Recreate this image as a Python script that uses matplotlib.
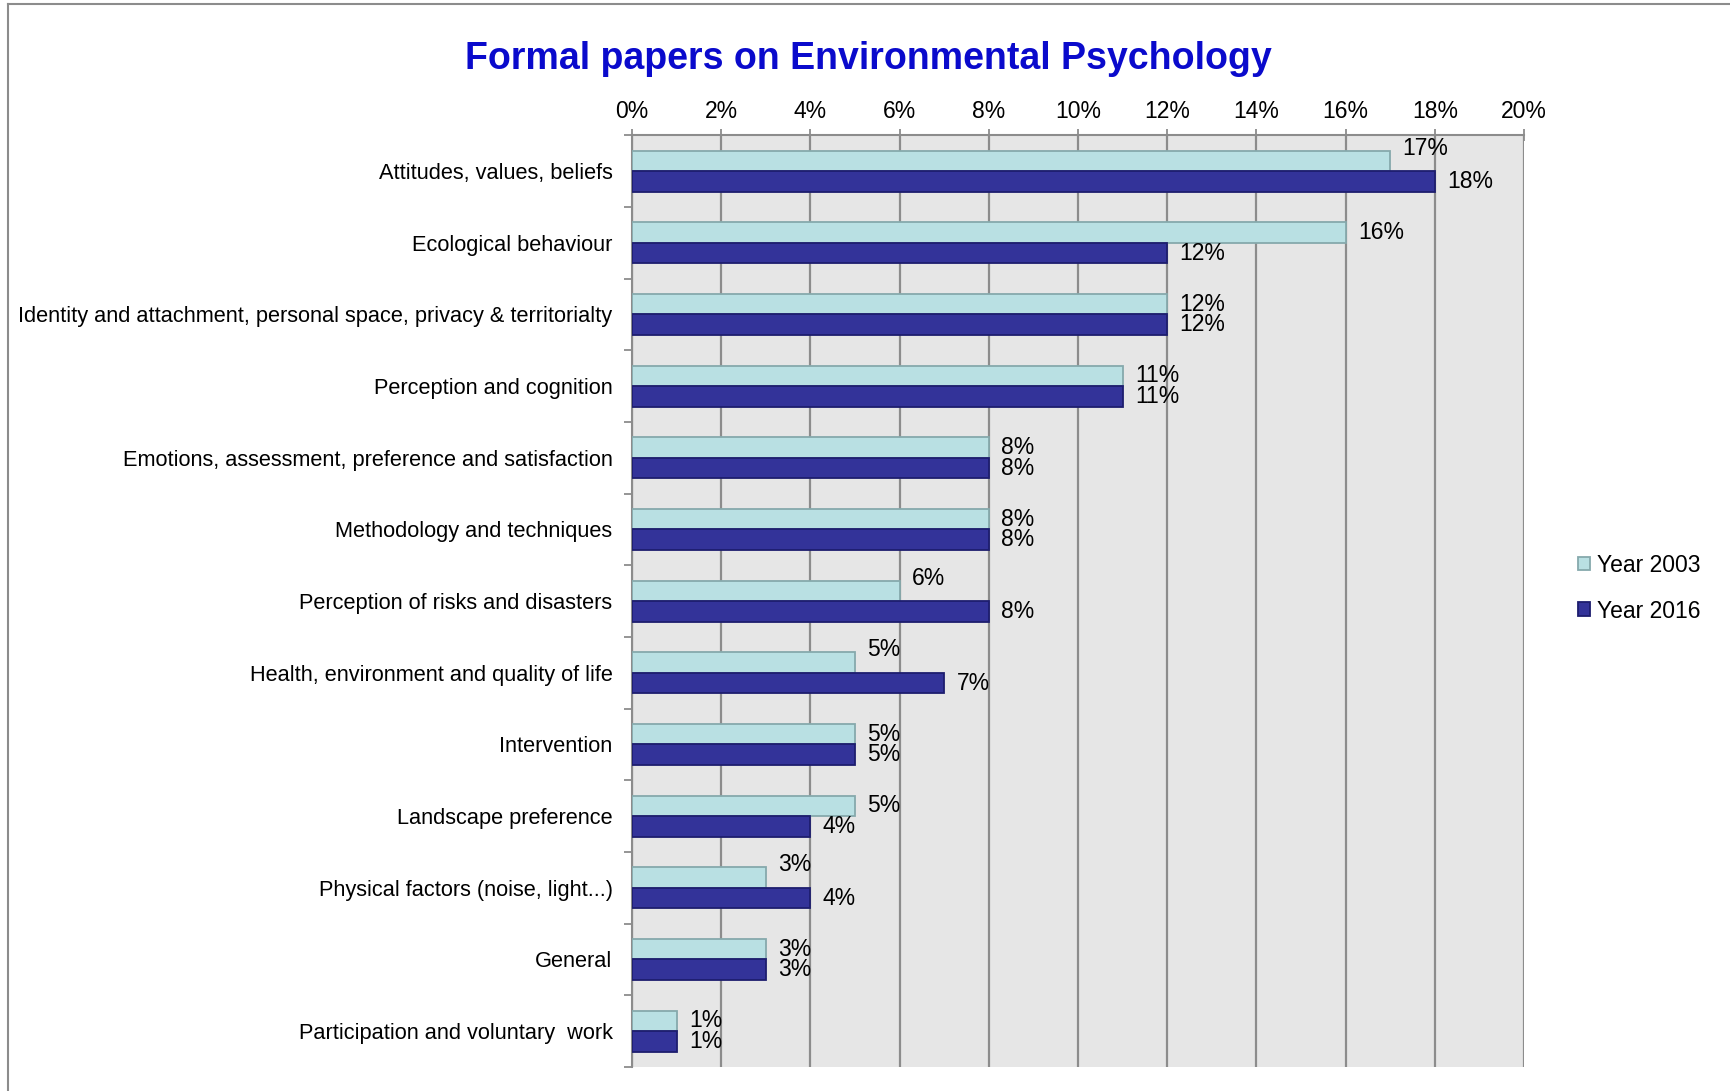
#!/usr/bin/env python3
# Formal papers on Environmental Psychology - share of topics, 2003 vs 2016
import numpy as np
import matplotlib
matplotlib.use("Agg")
import matplotlib.pyplot as plt
from matplotlib.lines import Line2D

plt.rcParams['font.family'] = ['Liberation Sans', 'DejaVu Sans']

# Data (percent of papers)
topics = ["Attitudes, values, beliefs",
          "Ecological behaviour",
          "Identity and attachment, personal space, privacy & territorialty",
          "Perception and cognition",
          "Emotions, assessment, preference and satisfaction",
          "Methodology and techniques",
          "Perception of risks and disasters",
          "Health, environment and quality of life",
          "Intervention",
          "Landscape preference",
          "Physical factors (noise, light...)",
          "General",
          "Participation and voluntary  work"]
year2003 = [17, 16, 12, 11, 8, 8, 6, 5, 5, 5, 3, 3, 1]
year2016 = [18, 12, 12, 11, 8, 8, 8, 7, 5, 4, 4, 3, 1]
series_names = ["Year 2003", "Year 2016"]
xticks = [0, 2, 4, 6, 8, 10, 12, 14, 16, 18, 20]

c2003, e2003 = "#b9e0e3", "#86a9ac"
c2016, e2016 = "#333399", "#1d1d6e"

fig = plt.figure(figsize=(17.3, 10.91), dpi=100)
ax = fig.add_axes([0.3653, 0.022, 0.5156, 0.854])

# frame lines around the figure (left & top only visible)
fig.add_artist(Line2D([0.0045, 0.0045], [0, 0.996], color="#8c8c8c", lw=1.5, transform=fig.transFigure))
fig.add_artist(Line2D([0.0045, 1.0], [0.996, 0.996], color="#8c8c8c", lw=1.5, transform=fig.transFigure))

n = len(topics)
pos = np.arange(n)
h = 0.285
ax.barh(pos - h / 2, year2003, height=h, color=c2003, edgecolor=e2003, linewidth=1.3, label=series_names[0], zorder=3)
ax.barh(pos + h / 2, year2016, height=h, color=c2016, edgecolor=e2016, linewidth=1.3, label=series_names[1], zorder=3)

# data labels
for i in range(n):
    dy = -0.18 if year2016[i] > year2003[i] else 0.0
    ax.annotate("%d%%" % year2003[i], (year2003[i], pos[i] - h / 2 + dy), xytext=(9, 0),
                textcoords="offset points", ha="left", va="center", fontsize=16.5, zorder=4)
    ax.annotate("%d%%" % year2016[i], (year2016[i], pos[i] + h / 2), xytext=(9, 0),
                textcoords="offset points", ha="left", va="center", fontsize=16.5, zorder=4)

ax.set_xlim(0, 20)
ax.set_ylim(n - 0.5, -0.5)
ax.set_facecolor("#e6e6e6")

ax.xaxis.tick_top()
ax.set_xticks(xticks)
ax.set_xticklabels(["%d%%" % t for t in xticks], fontsize=16.5)
ax.tick_params(axis="x", direction="inout", length=8, color="#8c8c8c", width=1.3, pad=5)
ax.grid(axis="x", color="#8c8c8c", linewidth=1.6, zorder=1)

# category labels at band centres, small ticks at band boundaries
ax.set_yticks(pos)
ax.set_yticklabels(topics, fontsize=15.7)
ax.tick_params(axis="y", length=0, pad=14)
ax.set_yticks(np.arange(n + 1) - 0.5, minor=True)
ax.tick_params(axis="y", which="minor", direction="out", length=6, color="#8c8c8c", width=1.3)

for s in ["right", "bottom"]:
    ax.spines[s].set_visible(False)
for s in ["top", "left"]:
    ax.spines[s].set_color("#8c8c8c")
    ax.spines[s].set_linewidth(1.5)

fig.text(0.502, 0.946, "Formal papers on Environmental Psychology", ha="center", va="center",
         fontsize=27, fontweight="bold", color="#0a0acc")

fig.legend(loc="center left", bbox_to_anchor=(0.912, 0.461), fontsize=16.5, frameon=False,
           handlelength=0.55, handleheight=0.55, handletextpad=0.3, labelspacing=1.0,
           borderaxespad=0, borderpad=0)

fig.savefig("out.png", dpi=100)
